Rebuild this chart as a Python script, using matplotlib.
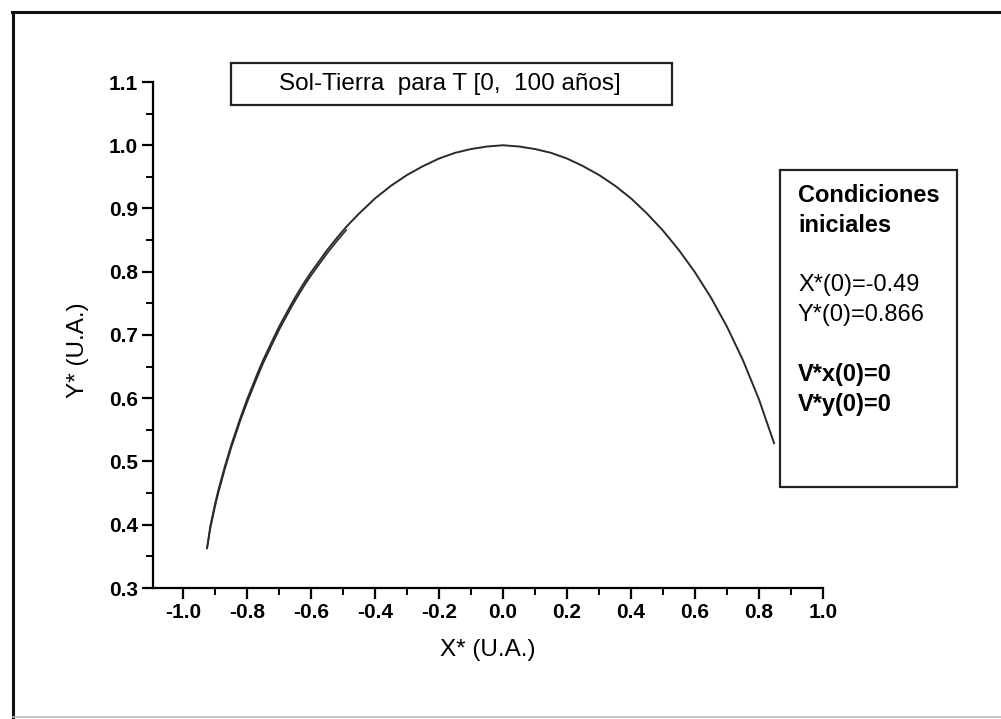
import matplotlib
matplotlib.use('Agg')
import matplotlib.pyplot as plt
from matplotlib.patches import Rectangle
from matplotlib.lines import Line2D
from matplotlib.ticker import MultipleLocator

plt.rcParams['font.family'] = ['Liberation Sans', 'DejaVu Sans']

# trajectory (X*, Y* in U.A.)
x_orbit = [-0.925, -0.915, -0.90, -0.89, -0.87, -0.85, -0.82, -0.80, -0.77, -0.75, -0.72,
           -0.70, -0.67, -0.65, -0.62, -0.60, -0.57, -0.55, -0.52, -0.49, -0.45,
           -0.40, -0.35, -0.30, -0.25, -0.20, -0.15, -0.10, -0.05, 0.00, 0.05,
           0.10, 0.15, 0.20, 0.25, 0.30, 0.35, 0.40, 0.45, 0.50, 0.55,
           0.60, 0.65, 0.70, 0.75, 0.80, 0.847]
y_orbit = [0.363, 0.397, 0.433, 0.454, 0.491, 0.525, 0.570, 0.598, 0.636, 0.660, 0.692,
           0.713, 0.741, 0.759, 0.784, 0.799, 0.820, 0.834, 0.853, 0.871, 0.892,
           0.916, 0.936, 0.953, 0.967, 0.979, 0.988, 0.994, 0.998, 1.000, 0.998,
           0.994, 0.988, 0.979, 0.967, 0.953, 0.936, 0.916, 0.892, 0.865, 0.834,
           0.799, 0.759, 0.713, 0.660, 0.598, 0.529]

# second (return) trace over the looped part
x_back = [-0.49, -0.52, -0.55, -0.57, -0.60, -0.62, -0.65, -0.67, -0.70, -0.72,
          -0.75, -0.77, -0.80, -0.82, -0.85, -0.87, -0.89, -0.90, -0.915, -0.925]
y_back = [0.866, 0.848, 0.829, 0.815, 0.794, 0.779, 0.754, 0.736, 0.708, 0.687,
          0.655, 0.631, 0.593, 0.566, 0.521, 0.487, 0.450, 0.429, 0.394, 0.363]

title_text = 'Sol-Tierra  para T [0,  100 años]'
info_lines = [('Condiciones', 'bold'), ('iniciales', 'bold'), ('', 'normal'),
              ('X*(0)=-0.49', 'normal'), ('Y*(0)=0.866', 'normal'), ('', 'normal'),
              ('V*x(0)=0', 'bold'), ('V*y(0)=0', 'bold')]

W, H = 1001, 719
fig = plt.figure(figsize=(W / 100, H / 100), dpi=100)


def px(x, y):
    return x / W, 1 - y / H


ax = fig.add_axes([153 / W, 1 - 588 / H, (823 - 153) / W, (588 - 82) / H])
ax.plot(x_orbit, y_orbit, color='#2a2a2a', lw=1.4)
ax.plot(x_back, y_back, color='#2a2a2a', lw=1.2)

ax.set_xlim(-1.094, 1.0)
ax.set_ylim(0.3, 1.1)
ax.xaxis.set_major_locator(MultipleLocator(0.2))
ax.xaxis.set_minor_locator(MultipleLocator(0.1))
ax.yaxis.set_major_locator(MultipleLocator(0.1))
ax.yaxis.set_minor_locator(MultipleLocator(0.05))
ax.set_xticks([-1.0, -0.8, -0.6, -0.4, -0.2, 0.0, 0.2, 0.4, 0.6, 0.8, 1.0])
ax.set_xticklabels(['-1.0', '-0.8', '-0.6', '-0.4', '-0.2', '0.0', '0.2', '0.4', '0.6', '0.8', '1.0'])
for s in ['top', 'right']:
    ax.spines[s].set_visible(False)
for s in ['left', 'bottom']:
    ax.spines[s].set_linewidth(1.6)
ax.tick_params(which='major', direction='out', length=8, width=1.6, labelsize=15, pad=3)
ax.tick_params(which='minor', direction='out', length=5, width=1.4)
for lab in ax.get_xticklabels() + ax.get_yticklabels():
    lab.set_fontweight('bold')

fig.text(*px(488, 650), 'X* (U.A.)', fontsize=17.5, ha='center', va='center')
fig.text(*px(78, 350), 'Y* (U.A.)', fontsize=17.5, ha='center', va='center', rotation=90)

# title box
fig.patches.append(Rectangle(px(231, 105), (672 - 231) / W, (105 - 63) / H,
                             transform=fig.transFigure, fill=False,
                             edgecolor='#222222', lw=1.6))
fig.text(*px(450, 84), title_text, fontsize=17.5, ha='center', va='center')

# conditions box
fig.patches.append(Rectangle(px(780, 487), (957 - 780) / W, (487 - 170) / H,
                             transform=fig.transFigure, fill=False,
                             edgecolor='#222222', lw=1.6))
y0 = 195
for i, (txt, wt) in enumerate(info_lines):
    if txt:
        fig.text(*px(798, y0 + i * 30), txt, fontsize=17, fontweight=wt,
                 ha='left', va='center')

# outer frame
fig.lines.append(Line2D([12 / W, 1.0], [1 - 12 / H, 1 - 12 / H], transform=fig.transFigure,
                        color='#111111', lw=2.2))
fig.lines.append(Line2D([13 / W, 13 / W], [0, 1 - 12 / H], transform=fig.transFigure,
                        color='#111111', lw=2.2))
fig.lines.append(Line2D([13 / W, 1.0], [1 - 717 / H, 1 - 717 / H], transform=fig.transFigure,
                        color='#bbbbbb', lw=1.2))

fig.savefig('out.png', dpi=100)
